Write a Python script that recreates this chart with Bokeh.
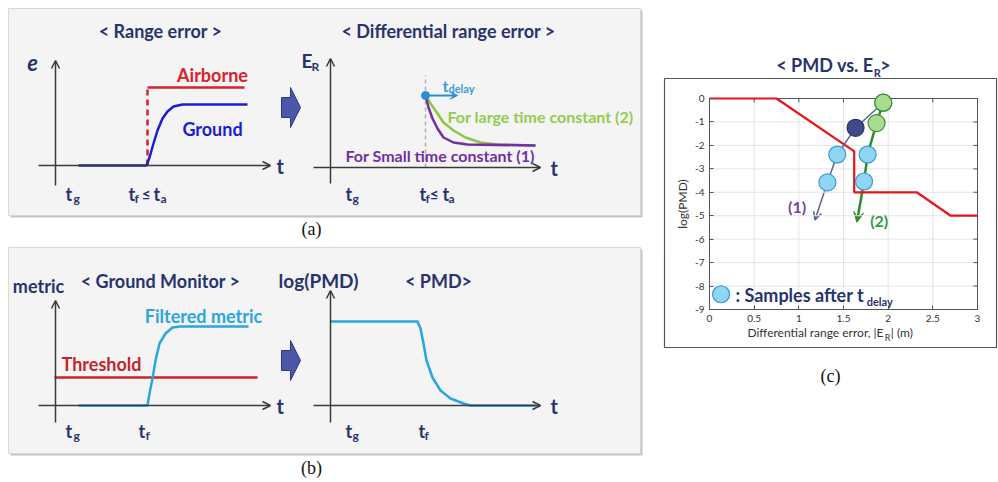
from bokeh.plotting import figure
from bokeh.models import Range1d, Arrow, OpenHead, VeeHead, FixedTicker, LinearAxis
from bokeh.core.properties import value
from bokeh.embed import file_html
from bokeh.resources import INLINE

FONT = "Lato"
NAVY = "#28336e"
AXIS = "#3a3a3a"
RED = "#d5222b"
BLUE = "#1c1cd4"
CYAN = "#29a6df"
GREEN_L = "#8ec641"
PURPLE = "#7030a0"

# ---- schematic curves, units of 10 px measured from each diagram's axis origin ----
ground_t = [2.3, 9.1, 9.4, 9.8, 10.2, 10.7, 11.2, 11.8, 12.7, 19.2]
ground_e = [0, 0, 0.8, 2.2, 3.5, 4.7, 5.4, 5.9, 6.1, 6.1]
air_step_t = [9.2, 9.2]
air_step_e = [0, 7.8]
air_t = [9.2, 18.9]
air_e = [7.8, 7.8]

large_t = [9.5, 10.0, 10.7, 11.3, 12.3, 13.5, 15.0, 16.7, 20.5]
large_e = [7.2, 6.4, 5.4, 4.5, 3.7, 3.0, 2.5, 2.3, 2.2]
small_t = [9.5, 9.8, 10.2, 10.7, 11.3, 12.3, 13.7, 20.5]
small_e = [7.2, 6.0, 4.9, 3.9, 3.0, 2.5, 2.3, 2.2]
delay_t = [9.5, 12.7]
delay_e = [7.2, 7.2]
fault_t = [9.5, 9.5]
fault_e = [0, 9.2]

metric_t = [2.3, 9.2, 9.4, 9.7, 10.0, 10.4, 11.0, 11.7, 12.5, 19.3]
metric_v = [0, 0, 1.2, 2.7, 4.5, 6.2, 7.2, 7.8, 7.9, 7.9]
threshold_t = [-0.1, 20.2]
threshold_v = [2.8, 2.8]

pmd_t = [0, 8.7, 9.0, 9.3, 9.6, 10.2, 11.0, 12.0, 13.3, 14.0, 20.5]
pmd_v = [8.4, 8.4, 7.7, 6.2, 4.5, 2.8, 1.5, 0.7, 0.2, 0, 0]

# ---- panel (c): PMD vs. E_R ----
x_ticks = [0, 0.5, 1, 1.5, 2, 2.5, 3]
x_tick_labels = ["0", "0.5", "1", "1.5", "2", "2.5", "3"]
y_ticks = [0, -1, -2, -3, -4, -5, -6, -7, -8, -9]
y_tick_labels = ["0", "-1", "-2", "-3", "-4", "-5", "-6", "-7", "-8", "-9"]

limit_x = [0, 0.75, 1.58, 1.62, 1.62, 2.32, 2.70, 3.0]
limit_y = [0, 0, -2.15, -2.25, -4.0, -4.0, -5.0, -5.0]

path1_x = [1.945, 1.635, 1.43, 1.32, 1.18]
path1_y = [-0.18, -1.25, -2.39, -3.58, -5.18]
path1_kind = ["start", "hit", "sample", "sample"]
path2_x = [1.945, 1.87, 1.77, 1.73, 1.65]
path2_y = [-0.18, -1.05, -2.39, -3.54, -5.28]
path2_kind = ["start", "start", "sample", "sample"]

KIND_FILL = {"start": "#a9dd8e", "hit": "#3f4a8c", "sample": "#8ed6f3"}
KIND_LINE = {"start": "#3a8c3a", "hit": "#262f6a", "sample": "#3a98cf"}

W, H = 998, 482

p = figure(width=W, height=H, x_range=Range1d(0, W), y_range=Range1d(H, 0),
           output_backend="svg", toolbar_location=None, min_border=0,
           x_axis_location=None, y_axis_location=None, outline_line_color=None)
p.grid.visible = False

# each schematic diagram gets its own scale: 10 px per unit from its axis origin
origins = {"al": (55, 165), "ar": (330, 167), "bl": (55, 405), "br": (330, 405)}
xr = {k: Range1d(-ox / 10, (W - ox) / 10) for k, (ox, oy) in origins.items()}
yr = {k: Range1d((oy - H) / 10, oy / 10) for k, (ox, oy) in origins.items()}
# panel (c): x 0..3 over px 709..977, y -9..0 over px 309..98
cx0, cx1, cy0, cy1 = 709, 977, 98, 309
sx = (cx1 - cx0) / 3.0
sy = (cy1 - cy0) / 9.0
xr["c"] = Range1d(-cx0 / sx, (W - cx0) / sx)
yr["c"] = Range1d(-(H - cy0) / sy, cy0 / sy)
p.extra_x_ranges = xr
p.extra_y_ranges = yr


def txt(d, x, y, s, size, color, align="left", style="bold", font=FONT):
    p.text(x=[x], y=[y], text=[s], x_range_name=d, y_range_name=d,
           text_font=value(font), text_font_size=f"{size}px", text_font_style=style,
           text_color=color, text_align=align, text_baseline="middle")


def axes(d, x0, x1, y0, y1):
    for xs, ys, xe, ye in [(x0, 0, x1, 0), (0, y0, 0, y1)]:
        p.add_layout(Arrow(end=OpenHead(size=8, line_color=AXIS, line_width=1.5),
                           x_start=xs, y_start=ys, x_end=xe, y_end=ye,
                           line_color=AXIS, line_width=1.5,
                           x_range_name=d, y_range_name=d))


# panel boxes with a soft shadow
for top, bottom in [(8, 215), (247, 453)]:
    p.quad(left=[10], right=[642], top=[top + 2], bottom=[bottom + 2],
           fill_color="#c4c4c4", line_color=None)
    p.quad(left=[8], right=[640], top=[top], bottom=[bottom],
           fill_color="#f4f4f4", line_color="#d8d8d8")

# block arrows between the two diagrams
shape_dx = [0, 9, 9, 19, 9, 9, 0]
shape_dy = [-10, -10, -20, 0, 20, 10, 10]
for ax_, ay_ in [(281, 107), (281, 360)]:
    p.patch([ax_ + dx for dx in shape_dx], [ay_ + dy for dy in shape_dy],
            fill_color="#4b57a8", line_color="#2e3880", line_width=1)

txt("default", 160, 30, "< Range error >", 18, NAVY, "center")
txt("default", 448, 30, "< Differential range error >", 18, NAVY, "center")
txt("default", 160, 280, "< Ground Monitor >", 18, NAVY, "center")
txt("default", 438, 280, "< PMD>", 18, NAVY, "center")
txt("default", 311, 228, "(a)", 18, "#111111", "center", "normal", "Liberation Serif")
txt("default", 311, 467, "(b)", 18, "#111111", "center", "normal", "Liberation Serif")

# --- (a) left: range error ---
axes("al", -1.7, 21.5, -2.0, 10.5)
p.line(air_step_t, air_step_e, x_range_name="al", y_range_name="al",
       line_color=RED, line_width=2.5, line_dash="6 4")
p.line(air_t, air_e, x_range_name="al", y_range_name="al", line_color=RED, line_width=2.5)
p.line(ground_t, ground_e, x_range_name="al", y_range_name="al", line_color=BLUE, line_width=2.5)
txt("al", -2.3, 10.3, "e", 22, NAVY, "center", "bold italic")
txt("al", 22.1, 0, "t", 20, NAVY)
txt("al", 15.7, 9.1, "Airborne", 18, RED, "center")
txt("al", 15.7, 3.7, "Ground", 18, BLUE, "center")
txt("al", 1.0, -2.8, "t", 18, NAVY)
txt("al", 1.8, -3.3, "g", 12, NAVY)
txt("al", 7.3, -2.8, "t", 18, NAVY)
txt("al", 7.9, -3.3, "f", 12, NAVY)
txt("al", 8.6, -2.8, "≤", 16, NAVY)
txt("al", 9.8, -2.8, "t", 18, NAVY)
txt("al", 10.5, -3.3, "a", 12, NAVY)

# --- (a) right: differential range error ---
axes("ar", -1.7, 21.0, -1.6, 10.9)
p.line(fault_t, fault_e, x_range_name="ar", y_range_name="ar",
       line_color="#b0b0b0", line_width=1.5, line_dash="4 3")
p.line(large_t, large_e, x_range_name="ar", y_range_name="ar", line_color=GREEN_L, line_width=2.5)
p.line(small_t, small_e, x_range_name="ar", y_range_name="ar", line_color=PURPLE, line_width=2.5)
p.add_layout(Arrow(end=VeeHead(size=7, fill_color="#2a8fd0", line_color="#2a8fd0"),
                   x_start=delay_t[0], y_start=delay_e[0], x_end=delay_t[1], y_end=delay_e[1],
                   line_color="#2a8fd0", line_width=2, x_range_name="ar", y_range_name="ar"))
p.scatter(delay_t[:1], delay_e[:1], x_range_name="ar", y_range_name="ar",
          size=8, fill_color="#2a8fd0", line_color="#2a8fd0")
txt("ar", -2.9, 10.7, "E", 19, NAVY)
txt("ar", -1.9, 10.1, "R", 12, NAVY)
txt("ar", 22.0, 0, "t", 20, NAVY)
txt("ar", 11.2, 8.2, "t", 16, "#3a9ad9")
txt("ar", 11.8, 7.9, "delay", 11, "#3a9ad9")
txt("ar", 11.7, 5.1, "For large time constant (2)", 16, "#92cc50")
txt("ar", 1.5, 1.2, "For Small time constant (1)", 16, PURPLE)
txt("ar", 1.5, -2.6, "t", 18, NAVY)
txt("ar", 2.2, -3.1, "g", 12, NAVY)
txt("ar", 8.9, -2.6, "t", 18, NAVY)
txt("ar", 9.5, -3.1, "f", 12, NAVY)
txt("ar", 9.9, -2.6, "≤", 16, NAVY)
txt("ar", 11.2, -2.6, "t", 18, NAVY)
txt("ar", 11.8, -3.1, "a", 12, NAVY)

# --- (b) left: ground monitor ---
axes("bl", -1.7, 21.5, -1.7, 10.5)
p.line(threshold_t, threshold_v, x_range_name="bl", y_range_name="bl",
       line_color="#cc2229", line_width=2.5)
p.line(metric_t, metric_v, x_range_name="bl", y_range_name="bl", line_color=CYAN, line_width=2.5)
txt("bl", -1.7, 12.0, "metric", 18, NAVY, "center")
txt("bl", 22.1, 0, "t", 20, NAVY)
txt("bl", 4.6, 4.2, "Threshold", 18, "#c0272d", "center")
txt("bl", 14.8, 9.0, "Filtered metric", 18, CYAN, "center")
txt("bl", 1.0, -2.5, "t", 18, NAVY)
txt("bl", 1.8, -3.0, "g", 12, NAVY)
txt("bl", 8.3, -2.5, "t", 18, NAVY)
txt("bl", 9.0, -3.0, "f", 12, NAVY)

# --- (b) right: PMD ---
axes("br", -1.7, 21.0, -1.7, 11.5)
p.line(pmd_t, pmd_v, x_range_name="br", y_range_name="br", line_color=CYAN, line_width=2.5)
txt("br", -1.2, 12.5, "log(PMD)", 19, NAVY, "center")
txt("br", 22.0, 0, "t", 20, NAVY)
txt("br", 1.5, -2.5, "t", 18, NAVY)
txt("br", 2.2, -3.0, "g", 12, NAVY)
txt("br", 8.8, -2.5, "t", 18, NAVY)
txt("br", 9.4, -3.0, "f", 12, NAVY)

# ================= panel (c) =================
p.quad(left=[664], right=[996], top=[78], bottom=[347], fill_color=None,
       line_color="#555555", line_width=1.2)

# grid lines at the tick positions
p.segment(x0=x_ticks, y0=[-9] * len(x_ticks), x1=x_ticks, y1=[0] * len(x_ticks),
          x_range_name="c", y_range_name="c", line_color="#e4e4e4", line_width=1)
p.segment(x0=[0] * len(y_ticks), y0=y_ticks, x1=[3] * len(y_ticks), y1=y_ticks,
          x_range_name="c", y_range_name="c", line_color="#e4e4e4", line_width=1)
# inward ticks on the top and right edges of the box
p.segment(x0=x_ticks, y0=[0] * len(x_ticks), x1=x_ticks, y1=[-0.17] * len(x_ticks),
          x_range_name="c", y_range_name="c", line_color="#555555", line_width=1)
p.segment(x0=[3] * len(y_ticks), y0=y_ticks, x1=[2.955] * len(y_ticks), y1=y_ticks,
          x_range_name="c", y_range_name="c", line_color="#555555", line_width=1)
p.quad(left=[0], right=[3], top=[0], bottom=[-9], x_range_name="c", y_range_name="c",
       fill_color=None, line_color="#555555", line_width=1)

for place, ticks, labels, loc in [("below", x_ticks, x_tick_labels, -9),
                                  ("left", y_ticks, y_tick_labels, 0)]:
    axis = LinearAxis(ticker=FixedTicker(ticks=ticks), fixed_location=loc,
                      bounds=(min(ticks), max(ticks)),
                      x_range_name="c", y_range_name="c",
                      major_tick_in=4, major_tick_out=0, minor_tick_line_color=None,
                      axis_line_color="#555555", major_tick_line_color="#555555",
                      major_label_text_font=FONT, major_label_text_font_size="10px",
                      major_label_text_color="#333333", major_label_standoff=5,
                      major_label_overrides=dict(zip(ticks, labels)))
    if place == "left":
        axis.axis_label = "log(PMD)"
        axis.axis_label_text_font = FONT
        axis.axis_label_text_font_style = "normal"
        axis.axis_label_text_font_size = "12px"
        axis.axis_label_text_color = "#333333"
        axis.axis_label_standoff = 2
    p.add_layout(axis, place)

p.line(limit_x, limit_y, x_range_name="c", y_range_name="c", line_color="#e8141b", line_width=2.2)
p.add_layout(Arrow(end=OpenHead(size=8, line_color="#5b6290", line_width=1.5),
                   x_start=path1_x[3], y_start=path1_y[3], x_end=path1_x[4], y_end=path1_y[4],
                   line_color="#5b6290", line_width=1.5, level="underlay",
                   x_range_name="c", y_range_name="c"))
p.add_layout(Arrow(end=VeeHead(size=10, fill_color="#2e8b2e", line_color="#2e8b2e"),
                   x_start=path2_x[3], y_start=path2_y[3], x_end=path2_x[4], y_end=path2_y[4],
                   line_color="#2e8b2e", line_width=2.5, level="underlay",
                   x_range_name="c", y_range_name="c"))
p.line(path1_x[:4], path1_y[:4], x_range_name="c", y_range_name="c",
       line_color="#5b6290", line_width=1.5)
p.line(path2_x[:4], path2_y[:4], x_range_name="c", y_range_name="c",
       line_color="#2e8b2e", line_width=2.5)
for px_, py_, kinds in [(path2_x, path2_y, path2_kind), (path1_x, path1_y, path1_kind)]:
    p.scatter(px_[:4], py_[:4], x_range_name="c", y_range_name="c", size=17, line_width=1.2,
              fill_color=[KIND_FILL[k] for k in kinds], line_color=[KIND_LINE[k] for k in kinds])

# legend sample
p.scatter([0.13], [-8.35], x_range_name="c", y_range_name="c", size=17, line_width=1.2,
          fill_color=KIND_FILL["sample"], line_color=KIND_LINE["sample"])
txt("c", 0.29, -8.40, ": Samples after t", 18, NAVY)
txt("c", 1.76, -8.66, "delay", 11, NAVY)
txt("c", 0.98, -4.60, "(1)", 16, "#7b3f9e", "center")
txt("c", 1.90, -5.20, "(2)", 16, "#2e9a48", "center")

# title, x label and caption of panel (c)
txt("c", 1.836, 1.408, "< PMD vs. E", 18, NAVY, "right")
txt("c", 1.84, 1.10, "R", 11, NAVY)
txt("c", 1.91, 1.408, ">", 18, NAVY)
txt("c", 1.948, -9.98, "Differential range error, |E", 12, "#333333", "right", "normal")
txt("c", 1.962, -10.20, "R", 9, "#333333", "left", "normal")
txt("c", 2.03, -9.98, "| (m)", 12, "#333333", "left", "normal")
txt("c", 1.355, -11.82, "(c)", 18, "#111111", "center", "normal", "Liberation Serif")

open("out.html", "w").write(file_html(p, INLINE))
